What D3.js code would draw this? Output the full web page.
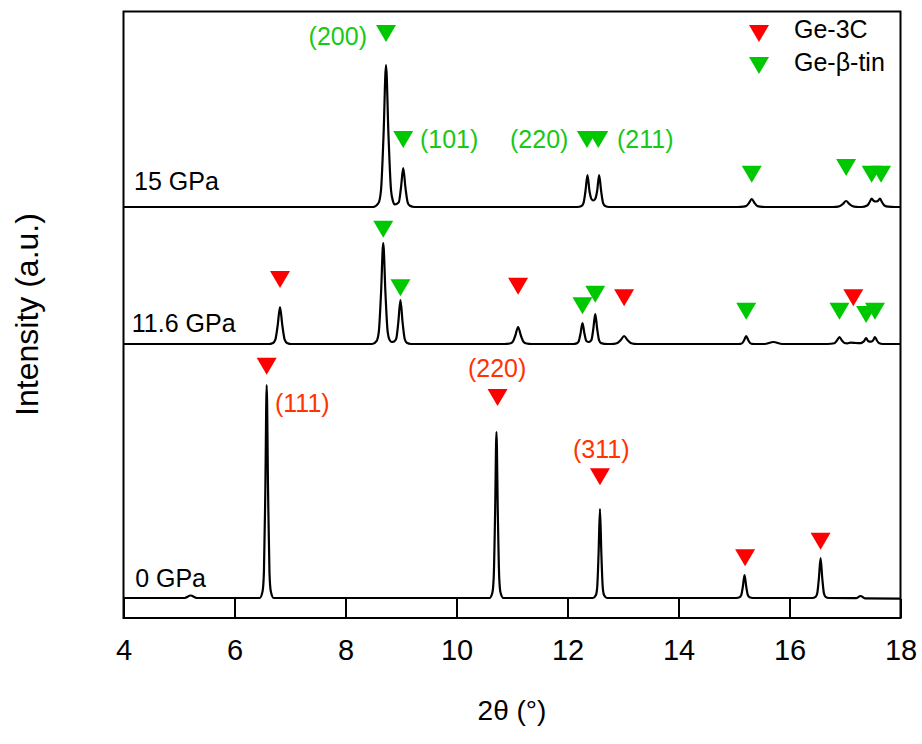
<!DOCTYPE html>
<html>
<head>
<meta charset="utf-8">
<script src="https://cdn.jsdelivr.net/npm/d3@7"></script>
<style>
  html, body { margin: 0; padding: 0; background: #fff; }
  svg { display: block; font-family: "Liberation Sans", Arial, sans-serif; }
</style>
</head>
<body>
<svg id="chart" width="922" height="744"></svg>
<script>
// ---------------- DATA ----------------
const xTickValues = [4, 6, 8, 10, 12, 14, 16, 18];
const xTickLabels = ["4", "6", "8", "10", "12", "14", "16", "18"];
const xTitle = "2\u03B8 (\u00B0)";
const yTitle = "Intensity (a.u.)";

const patternNames = ["0 GPa", "11.6 GPa", "15 GPa"];

// [2theta, intensity (a.u., stacked)]
const pattern0GPa = [
  [4,20],[5.10,20],[5.21,22.5],[5.32,20],
  [6.455,20],[6.505,26.4],[6.53,45.6],[6.555,126.5],[6.58,233],[6.605,126.5],[6.63,45.6],[6.655,26.4],[6.705,20],
  [10.595,20],[10.645,25],[10.67,39.9],[10.695,103],[10.72,186],[10.745,103],[10.77,39.9],[10.795,25],[10.845,20],
  [12.46,20],[12.51,22.7],[12.535,30.7],[12.56,64.5],[12.585,109],[12.61,64.5],[12.635,30.7],[12.66,22.7],[12.71,20],
  [15.04,20],[15.10,20.7],[15.13,22.8],[15.16,31.5],[15.19,43],[15.22,31.5],[15.25,22.8],[15.28,20.7],[15.34,20],
  [16.41,20],[16.47,21.2],[16.50,24.8],[16.53,40],[16.56,60],[16.59,40],[16.62,24.8],[16.65,21.2],[16.71,20],
  [17.2,19.8],[17.28,22],[17.36,19.6],[18,19.3]
];
const pattern11_6GPa = [
  [4,274],[6.61,274],[6.694,275.1],[6.736,278.4],[6.778,292.5],[6.82,311],[6.862,292.5],[6.904,278.4],[6.946,275.1],[7.03,274],
  [8.48,274],[8.56,277],[8.60,286.1],[8.64,324.5],[8.68,375],[8.72,324.5],[8.76,286.1],[8.80,277.5],[8.835,276],
  [8.876,276.5],[8.914,279.3],[8.952,296],[8.99,318],[9.028,296],[9.066,279.3],[9.104,275.3],[9.18,274],
  [10.86,274],[10.96,274.5],[11.01,276],[11.06,282.5],[11.11,291],[11.16,282.5],[11.21,276],[11.26,274.5],[11.36,274],
  [12.10,274],[12.165,274.6],[12.20,276.5],[12.235,284.5],[12.27,295],[12.305,284.5],[12.34,277],[12.385,276],
  [12.43,277.8],[12.465,289],[12.50,304],[12.535,289],[12.57,277.6],[12.605,274.9],[12.72,274],
  [12.84,274.2],[12.90,275],[12.96,278],[13.02,282],[13.08,278],[13.14,275],[13.20,274.2],[13.32,274],
  [15.045,274],[15.115,274.2],[15.15,275],[15.185,278],[15.22,282],[15.255,278],[15.29,275],[15.325,274.2],[15.395,274],
  [15.55,274],[15.71,276],[15.87,274],
  [16.68,274],[16.81,274.8],[16.855,277.5],[16.90,281],[16.945,277.5],[16.99,275],[17.04,274.6],[17.10,275.3],[17.2,275],
  [17.27,274.8],[17.31,275.5],[17.345,277],[17.38,280],[17.415,277],[17.46,276.3],[17.505,277.5],[17.54,281],[17.575,277.5],[17.61,275],[17.68,274],[18,274]
];
const pattern15GPa = [
  [4,411],[8.5,411],[8.595,415],[8.64,428],[8.685,482],[8.73,553],[8.775,482],[8.82,428],[8.855,417],[8.885,413.5],
  [8.96,415.7],[9.00,430.5],[9.04,450],[9.08,430.5],[9.12,415.7],[9.16,412.2],[9.24,411],
  [12.18,411],[12.252,412],[12.288,414.8],[12.324,427],[12.36,443],[12.396,427],[12.432,419],[12.465,417.5],
  [12.498,419],[12.534,427],[12.57,443],[12.606,427],[12.642,414.8],[12.678,412],[12.75,411],
  [15.07,411],[15.17,411.3],[15.22,412],[15.27,415],[15.32,419],[15.37,415],[15.42,412],[15.47,411.3],[15.57,411],
  [16.72,411],[16.84,411.2],[16.90,411.8],[16.96,414],[17.02,417],[17.08,414],[17.14,411.8],[17.20,411.2],[17.30,411],
  [17.40,412.5],[17.44,415.5],[17.48,419.3],[17.52,417],[17.555,416.5],[17.59,417],[17.63,419.3],[17.67,415.5],[17.71,412.5],[17.78,411.3],[17.9,411],[18,411]
];
const patterns = [pattern0GPa, pattern11_6GPa, pattern15GPa];

// Marker positions: [2theta, level (a.u., top of triangle)]
const ge3CMarkers = [
  [6.58,260.3],[10.74,229],[12.585,149.7],[15.20,68.7],[16.56,85.3],
  [6.82,347],[11.11,340.3],[13.02,328.7],[17.15,328.7]
];
const geBetaTinMarkers = [
  [8.68,397.3],[8.99,338.7],[12.27,320.7],[12.50,332.3],[15.22,315.3],[16.90,315.3],[17.38,312],[17.54,315.3],
  [8.73,593],[9.04,487],[12.35,487],[12.555,487],[15.32,452.3],[17.02,459],[17.48,452.3],[17.65,452.3]
];

// Miller index labels: [text, 2theta, level, phase, anchor]
const hklLabels = [
  ["(200)", 8.387, 573, "beta", "end"],
  ["(101)", 9.342, 470, "beta", "start"],
  ["(220)", 10.964, 470, "beta", "start"],
  ["(211)", 12.892, 470, "beta", "start"],
  ["(111)", 6.73, 206, "3C", "start"],
  ["(220)", 10.207, 241, "3C", "start"],
  ["(311)", 12.099, 160, "3C", "start"]
];
// curve label anchor [2theta, level]
const patternLabelPos = [[4.21, 31], [4.15, 286], [4.19, 428]];
const legendItems = ["Ge-3C", "Ge-\u03B2-tin"];

// ---------------- LAYOUT / STYLE ----------------
const L = { left: 123.5, right: 900.5, top: 11.5, bottom: 618 };
const colors = { "3C": "#ff0000", "beta": "#00c800", text3C: "#ff3300", textBeta: "#18c818" };
const tri = { w: 20, h: 17 };

const svg = d3.select("#chart");
const x = d3.scaleLinear().domain([4, 18]).range([L.left, L.right]);
const y = d3.scaleLinear().domain([0, L.bottom - L.top]).range([L.bottom, L.top]);

// x axis with inward ticks
const xAxis = d3.axisBottom(x)
  .tickValues(xTickValues)
  .tickFormat((d, i) => xTickLabels[i])
  .tickSize(-19)
  .tickPadding(21);
const gx = svg.append("g").attr("transform", `translate(0,${L.bottom})`).call(xAxis);
gx.select(".domain").remove();
gx.selectAll(".tick line").attr("stroke", "#000").attr("stroke-width", 2);
gx.selectAll(".tick text").attr("font-size", 29).attr("fill", "#000")
  .attr("font-family", '"Liberation Sans", Arial, sans-serif');

// curves
const line = d3.line().x(d => x(d[0])).y(d => y(d[1])).curve(d3.curveMonotoneX);
svg.append("g").selectAll("path").data(patterns).join("path")
  .attr("d", line).attr("fill", "none").attr("stroke", "#000")
  .attr("stroke-width", 2.2).attr("stroke-linejoin", "round");

// frame
svg.append("rect").attr("x", L.left).attr("y", L.top)
  .attr("width", L.right - L.left).attr("height", L.bottom - L.top)
  .attr("fill", "none").attr("stroke", "#000").attr("stroke-width", 2);

// markers
function triPath(cx, top) {
  return `M${cx - tri.w / 2},${top}L${cx + tri.w / 2},${top}L${cx},${top + tri.h}Z`;
}
svg.append("g").selectAll("path").data(ge3CMarkers).join("path")
  .attr("d", d => triPath(x(d[0]), y(d[1]))).attr("fill", colors["3C"]);
svg.append("g").selectAll("path").data(geBetaTinMarkers).join("path")
  .attr("d", d => triPath(x(d[0]), y(d[1]))).attr("fill", colors.beta);

// hkl labels
svg.append("g").selectAll("text").data(hklLabels).join("text")
  .attr("x", d => x(d[1])).attr("y", d => y(d[2]))
  .attr("text-anchor", d => d[4])
  .attr("font-size", 25)
  .attr("fill", d => d[3] === "3C" ? colors.text3C : colors.textBeta)
  .text(d => d[0]);

// pattern labels
svg.append("g").selectAll("text").data(patternNames).join("text")
  .attr("x", (d, i) => x(patternLabelPos[i][0])).attr("y", (d, i) => y(patternLabelPos[i][1]))
  .attr("font-size", 25).attr("fill", "#000")
  .text(d => d);

// legend
const legend = svg.append("g");
const legColors = [colors["3C"], colors.beta];
const legTops = [25, 57];
const legBase = [38, 71];
legendItems.forEach((t, i) => {
  legend.append("path").attr("d", triPath(759, legTops[i])).attr("fill", legColors[i]);
  legend.append("text").attr("x", 794).attr("y", legBase[i]).attr("font-size", 25).attr("fill", "#000").text(t);
});

// axis titles
svg.append("text").attr("x", (L.left + L.right) / 2).attr("y", 720)
  .attr("text-anchor", "middle").attr("font-size", 28).attr("fill", "#000").text(xTitle);
svg.append("text").attr("transform", "translate(38,314.5) rotate(-90)")
  .attr("text-anchor", "middle").attr("font-size", 32).attr("fill", "#000").text(yTitle);
</script>
</body>
</html>
